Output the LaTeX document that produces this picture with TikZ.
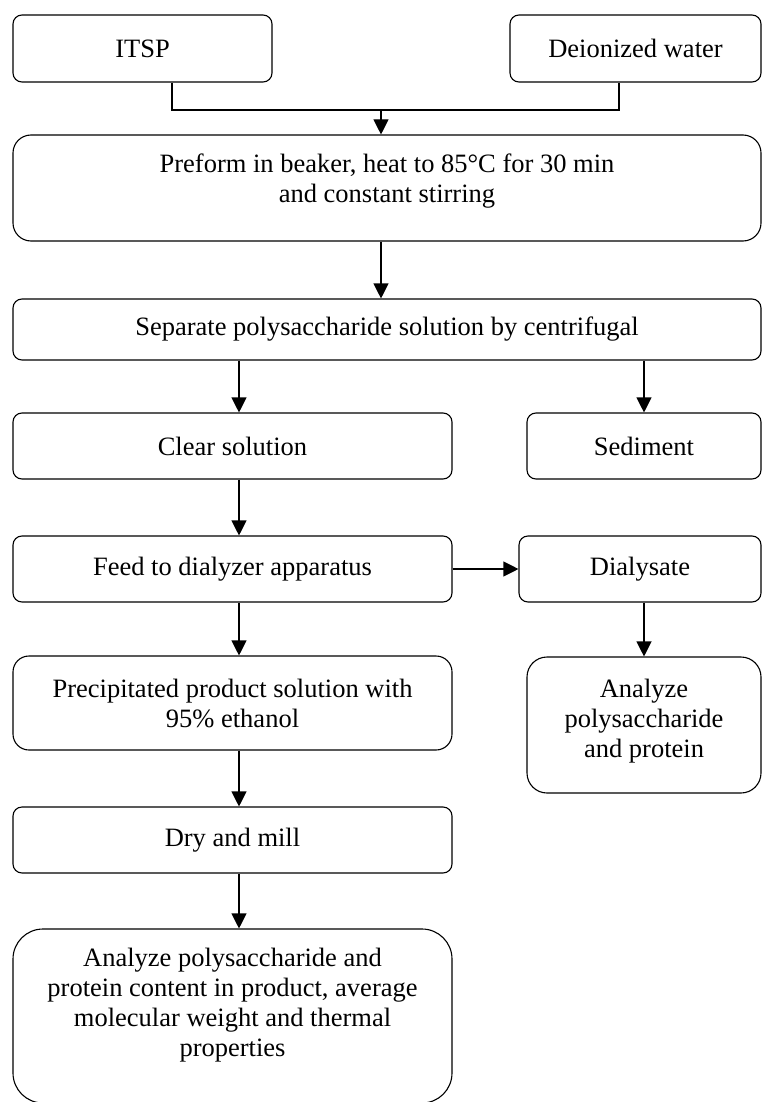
\documentclass[tikz,border=0pt]{standalone}
\usepackage{fontspec}
\setmainfont{Liberation Serif}
\usetikzlibrary{arrows.meta,calc}
\begin{document}
\begin{tikzpicture}[x=1pt,y=-1pt,
  box/.style={draw,line width=1.1pt,rounded corners=9pt,align=center,inner sep=0pt,
    font=\fontsize{26.5}{30}\selectfont},
  arr/.style={line width=1.1pt,-{Triangle[width=15pt,length=15pt]}},
  ln/.style={line width=1.1pt}]
\useasboundingbox (0,0) rectangle (762,1102);
% boxes: center = ((x1+x2)/2,(y1+y2)/2), size = (x2-x1, y2-y1)
\node[box,minimum width=259pt,minimum height=67pt] (itsp) at (142.5,48.5) {ITSP};
\node[box,minimum width=251pt,minimum height=67pt] (water) at (635.5,48.5) {Deionized water};
\node[box,rounded corners=18pt,minimum width=748pt,minimum height=106pt,text depth=20pt] (preform) at (387,188)
  {Preform in beaker, heat to 85°C for 30 min\\and constant stirring};
\node[box,minimum width=748pt,minimum height=61pt] (separate) at (387,329.5)
  {Separate polysaccharide solution by centrifugal};
\node[box,minimum width=439pt,minimum height=66pt] (clear) at (232.5,446) {Clear solution};
\node[box,minimum width=234pt,minimum height=66pt] (sediment) at (644,446) {Sediment};
\node[box,minimum width=439pt,minimum height=66pt] (feed) at (232.5,569) {Feed to dialyzer apparatus};
\node[box,minimum width=242pt,minimum height=66pt] (dialysate) at (640,569) {Dialysate};
\node[box,rounded corners=16pt,minimum width=439pt,minimum height=94pt] (precip) at (232.5,703)
  {Precipitated product solution with\\95\% ethanol};
\node[box,rounded corners=20pt,minimum width=234pt,minimum height=136pt,text depth=14pt] (analyze) at (644,725)
  {Analyze\\polysaccharide\\and protein};
\node[box,minimum width=439pt,minimum height=66pt] (dry) at (232.5,840) {Dry and mill};
\node[box,rounded corners=30pt,minimum width=439pt,minimum height=174pt,text depth=28pt] (final) at (232.5,1016)
  {Analyze polysaccharide and\\protein content in product, average\\molecular weight and thermal\\properties};
% connectors
\coordinate (j) at (381,110);
\draw[ln] ([xshift=29.5pt]itsp.south) |- (j);
\draw[ln] ([xshift=-16.5pt]water.south) |- (j);
\draw[arr] (j) -- (j |- preform.north);
\draw[arr] (j |- preform.south) -- (j |- separate.north);
\coordinate (c) at (239,0);
\draw[arr] (c |- separate.south) -- (c |- clear.north);
\draw[arr] (separate.south -| sediment.north) -- (sediment.north);
\draw[arr] (c |- clear.south) -- (c |- feed.north);
\draw[arr] (feed.east) -- (dialysate.west);
\draw[arr] (dialysate.south -| analyze.north) -- (analyze.north);
\draw[arr] (c |- feed.south) -- (c |- precip.north);
\draw[arr] (c |- precip.south) -- (c |- dry.north);
\draw[arr] (c |- dry.south) -- (c |- final.north);
\end{tikzpicture}
\end{document}
